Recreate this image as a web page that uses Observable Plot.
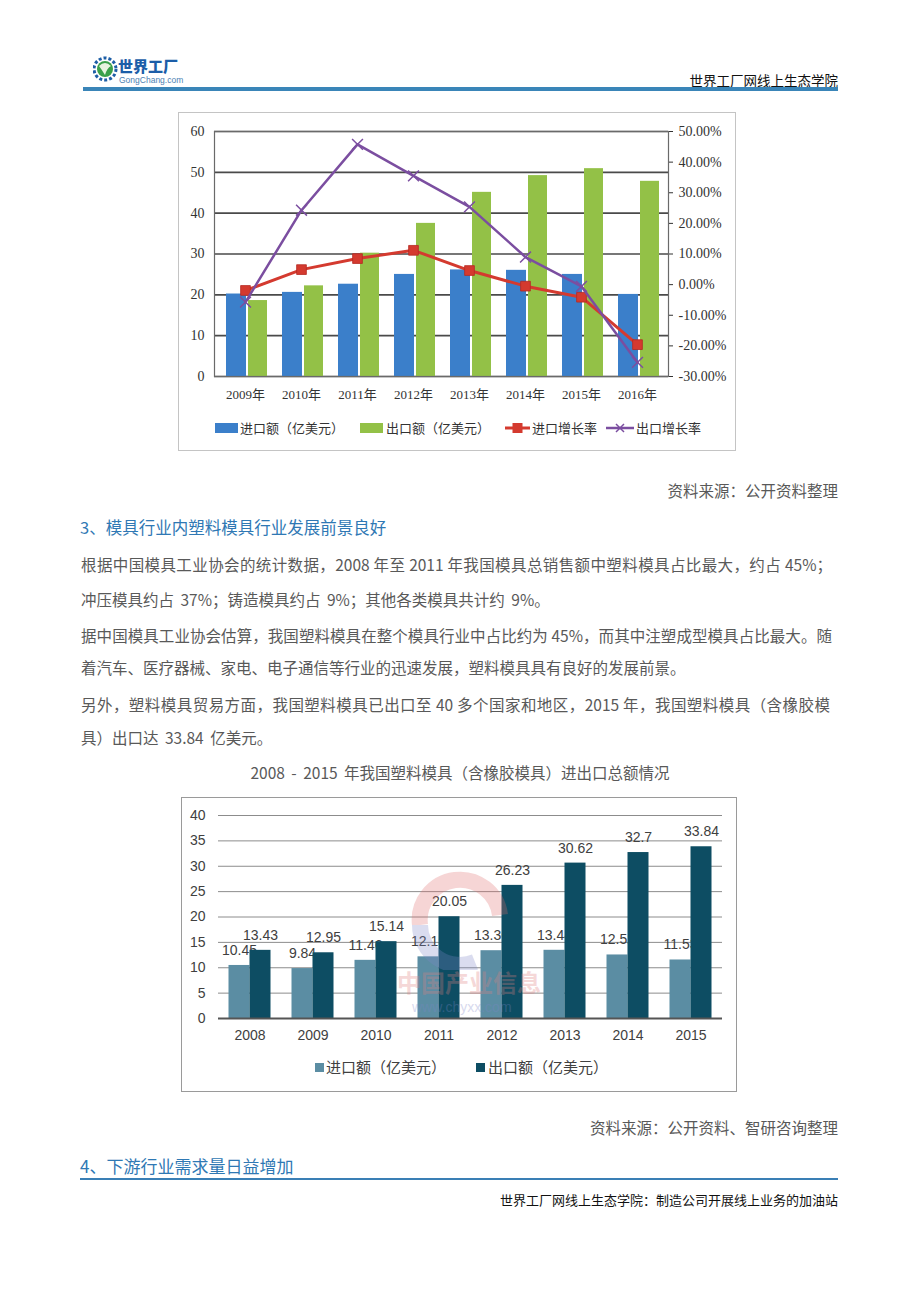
<!DOCTYPE html>
<html><head><meta charset="utf-8">
<script src="https://cdn.jsdelivr.net/npm/d3@7"></script>
<script src="https://cdn.jsdelivr.net/npm/@observablehq/plot@0.6"></script>
<style>
body{margin:0;background:#fff;}
#page{position:relative;width:920px;height:1302px;overflow:hidden;background:#fff;font-family:"Noto Sans CJK SC","Noto Sans",sans-serif;color:#595959;}
.t{position:absolute;white-space:nowrap;line-height:20px;height:20px;}
.p{font-size:15.5px;left:81px;color:#595959;}
.full{width:751px;text-align:justify;text-align-last:justify;}
.h{color:#2f78b4;left:80px;}
.box{position:absolute;box-sizing:border-box;}
.chart{position:absolute;}
.lg{position:absolute;white-space:nowrap;line-height:16px;}
</style></head>
<body><div id="page">
  <!-- header -->
  <svg class="box" style="left:93px;top:54px" width="26" height="30" viewBox="0 0 26 30">
    <circle cx="12" cy="15" r="11" fill="none" stroke="#1d5ea6" stroke-width="3" stroke-dasharray="3 2"/>
    <circle cx="12" cy="15" r="8" fill="#3aa04a"/>
    <path d="M6 12 Q12 6 18 12 Q14 14 12 21 Q9 16 6 12Z" fill="#e8f3e0"/>
  </svg>
  <div class="t" style="left:118px;top:56px;font-size:15px;font-weight:900;color:#1c5ea8;letter-spacing:0px">世界工厂</div>
  <div class="t" style="left:119px;top:70px;font-size:8.5px;color:#4d7fb3;font-family:'Liberation Sans',sans-serif">GongChang.com</div>
  <div class="t" style="right:82px;top:70px;font-size:13.5px;color:#111">世界工厂网线上生态学院</div>
  <div class="box" style="left:83px;top:87px;width:755px;height:4px;background:#3a85b8"></div>

  <!-- chart 1 -->
  <div class="box" style="left:178px;top:112px;width:558px;height:339px;border:1px solid #c4c4c4"></div>
  <div id="c1a" class="chart" style="left:178px;top:112px"></div>
  <div id="c1b" class="chart" style="left:178px;top:112px"></div>
  <div id="leg1"></div>

  <div class="t" style="right:82px;top:480px;font-size:15.5px">资料来源：公开资料整理</div>
  <div class="t h" style="top:517px;font-size:16.5px">3、模具行业内塑料模具行业发展前景良好</div>
  <div class="t p full" style="top:554px">根据中国模具工业协会的统计数据，2008 年至 2011 年我国模具总销售额中塑料模具占比最大，约占 45%；</div>
  <div class="t p" style="top:589px;word-spacing:3px">冲压模具约占 37%；铸造模具约占 9%；其他各类模具共计约 9%。</div>
  <div class="t p full" style="top:625px">据中国模具工业协会估算，我国塑料模具在整个模具行业中占比约为 45%，而其中注塑成型模具占比最大。随</div>
  <div class="t p" style="top:657px">着汽车、医疗器械、家电、电子通信等行业的迅速发展，塑料模具具有良好的发展前景。</div>
  <div class="t p full" style="top:694px;width:749px">另外，塑料模具贸易方面，我国塑料模具已出口至 40 多个国家和地区，2015 年，我国塑料模具（含橡胶模</div>
  <div class="t p" style="top:727px;word-spacing:3px">具）出口达 33.84 亿美元。</div>
  <div class="t" style="left:0;width:920px;text-align:center;top:762px;font-size:15.5px;word-spacing:3px">2008 - 2015 年我国塑料模具（含橡胶模具）进出口总额情况</div>

  <!-- chart 2 -->
  <div class="box" style="left:181px;top:797px;width:556px;height:295px;border:1px solid #9a9a9a"></div>
  <div id="c2" class="chart" style="left:181px;top:797px"></div>
  <!-- faint watermark -->
  <svg class="box" style="left:405px;top:870px;opacity:0.28" width="110" height="100" viewBox="0 0 110 100">
    <path d="M15 55 A40 40 0 0 1 95 45" fill="none" stroke="#e06a6a" stroke-width="16"/>
    <path d="M15 55 A40 40 0 0 0 70 92" fill="none" stroke="#7d86c8" stroke-width="16"/>
  </svg>
  <div class="t" style="left:397px;top:970px;font-size:24px;line-height:24px;height:24px;color:#e08080;opacity:0.3;font-weight:700">中国产业信息</div>
  <div class="t" style="left:412px;top:999px;font-size:14px;line-height:16px;height:16px;color:#7d86c8;opacity:0.3;font-family:'Liberation Sans',sans-serif">www.chyxx.com</div>
  <div id="leg2"></div>

  <div class="t" style="right:82px;top:1117px;font-size:15.5px">资料来源：公开资料、智研咨询整理</div>
  <div class="t h" style="top:1156px;font-size:17px">4、下游行业需求量日益增加</div>
  <div class="box" style="left:80px;top:1178px;width:758px;height:2px;background:#3a7fb5"></div>
  <div class="t" style="right:82px;top:1190px;font-size:13px;color:#111">世界工厂网线上生态学院：制造公司开展线上业务的加油站</div>
</div>
<script>
// ---- Chart 1 data ----
const years1 = ["2009年","2010年","2011年","2012年","2013年","2014年","2015年","2016年"];
const importAmt1 = [20.2, 20.6, 22.6, 25.0, 26.1, 26.0, 25.0, 20.1];
const exportAmt1 = [18.6, 22.2, 30.2, 37.5, 45.1, 49.2, 50.9, 47.8];
const importGrowth1 = [-1.9, 4.9, 8.5, 11.2, 4.6, -0.5, -4.1, -19.6];
const exportGrowth1 = [-5.7, 24.3, 45.8, 35.5, 25.4, 9.0, -0.6, -25.4];
const leftTicks1 = [0, 10, 20, 30, 40, 50, 60];
const rightTicks1 = [-30, -20, -10, 0, 10, 20, 30, 40, 50];
const legend1 = ["进口额（亿美元）", "出口额（亿美元）", "进口增长率", "出口增长率"];

// ---- Chart 2 data ----
const years2 = ["2008","2009","2010","2011","2012","2013","2014","2015"];
const importAmt2 = [10.45, 9.84, 11.46, 12.15, 13.36, 13.44, 12.52, 11.53];
const exportAmt2 = [13.43, 12.95, 15.14, 20.05, 26.23, 30.62, 32.7, 33.84];
const ticks2 = [0, 5, 10, 15, 20, 25, 30, 35, 40];
const legend2 = ["进口额（亿美元）", "出口额（亿美元）"];

const C = {blue:"#3b7fca", green:"#93c147", red:"#d43a2f", purple:"#7b4ea0", imp2:"#5b8da3", exp2:"#0d4d63"};

const d1 = years1.map((y,i)=>({year:y, imp:importAmt1[i], exp:exportAmt1[i], ig:importGrowth1[i], eg:exportGrowth1[i]}));
const d2 = years2.map((y,i)=>({year:y, imp:importAmt2[i], exp:exportAmt2[i]}));

const dims1 = {width:558, height:339, marginLeft:36, marginRight:68, marginTop:19, marginBottom:75};
const font1 = "'Liberation Serif','Noto Sans CJK SC',serif";

const c1a = Plot.plot({
  ...dims1,
  style:{background:"transparent", fontFamily:font1, fontSize:"14px", color:"#333"},
  x:{type:"band", domain:years1, padding:0, label:null},
  y:{domain:[0,60], label:null},
  marks:[
    Plot.ruleY(leftTicks1, {stroke:"#4a4a4a", strokeWidth:1.6}),
    Plot.barY(d1, {x:"year", y:"imp", fill:C.blue, insetLeft:9, insetRight:27}),
    Plot.barY(d1, {x:"year", y:"exp", fill:C.green, insetLeft:31, insetRight:6}),
    Plot.frame({stroke:"#6a6a6a", strokeWidth:1.2}),
    Plot.axisY(leftTicks1, {tickSize:0, tickPadding:10, label:null}),
    Plot.axisX({tickSize:0, tickPadding:13, label:null, fontSize:13})
  ]
});
document.getElementById("c1a").append(c1a);

const c1b = Plot.plot({
  ...dims1,
  style:{background:"transparent", fontFamily:font1, fontSize:"14px", color:"#333"},
  x:{type:"point", domain:years1, padding:0.5, axis:null},
  y:{domain:[-30,50], label:null, axis:null},
  marks:[
    Plot.axisY(rightTicks1, {anchor:"right", tickSize:4, tickPadding:6, tickFormat:d=>d.toFixed(2)+"%", label:null}),
    Plot.line(d1, {x:"year", y:"ig", stroke:C.red, strokeWidth:3}),
    Plot.dot(d1, {x:"year", y:"ig", symbol:"square", r:5.5, fill:C.red, stroke:"#b52a22", strokeWidth:0.8}),
    Plot.line(d1, {x:"year", y:"eg", stroke:C.purple, strokeWidth:2.5}),
    Plot.dot(d1, {x:"year", y:"eg", symbol:"times", r:5, stroke:C.purple, strokeWidth:1.5})
  ]
});
document.getElementById("c1b").append(c1b);

// legend 1
(function(){
  const page = document.getElementById("leg1");
  const sw = [
    {x:215, kind:"rect", color:C.blue, tx:240},
    {x:360, kind:"rect", color:C.green, tx:386},
    {x:505, kind:"sq", color:C.red, tx:532},
    {x:606, kind:"x", color:C.purple, tx:636}
  ];
  const cy = 428;
  sw.forEach((s,i)=>{
    const svg = document.createElementNS("http://www.w3.org/2000/svg","svg");
    svg.setAttribute("width", 30); svg.setAttribute("height", 16);
    svg.style.position = "absolute"; svg.style.left = s.x+"px"; svg.style.top = (cy-8)+"px";
    if (s.kind === "rect") {
      svg.innerHTML = `<rect x="0" y="3" width="23" height="10" fill="${s.color}"/>`;
    } else if (s.kind === "sq") {
      svg.innerHTML = `<line x1="0" y1="8" x2="25" y2="8" stroke="${s.color}" stroke-width="3"/><rect x="7.5" y="3" width="10" height="10" fill="${s.color}"/>`;
    } else {
      svg.innerHTML = `<line x1="0" y1="8" x2="28" y2="8" stroke="${s.color}" stroke-width="2.5"/><path d="M10 4L18 12M18 4L10 12" stroke="${s.color}" stroke-width="1.5"/>`;
    }
    page.appendChild(svg);
    const t = document.createElement("div");
    t.className = "lg";
    t.style.left = s.tx+"px"; t.style.top = (cy-8)+"px";
    t.style.fontSize = "13px"; t.style.color = "#333";
    t.textContent = legend1[i];
    page.appendChild(t);
  });
})();

// chart 2
const c2 = Plot.plot({
  width:556, height:295, marginLeft:37, marginRight:15, marginTop:18, marginBottom:74,
  style:{background:"transparent", fontFamily:"'Liberation Sans',Arial,sans-serif", fontSize:"14px", color:"#404040"},
  x:{type:"band", domain:years2, padding:0, label:null},
  y:{domain:[0,40], label:null},
  marks:[
    Plot.ruleY(ticks2, {stroke:"#8c8c8c", strokeWidth:1}),
    Plot.barY(d2, {x:"year", y:"imp", fill:C.imp2, insetLeft:10.5, insetRight:31.5}),
    Plot.text(d2, {x:"year", y:"imp", text:d=>String(d.imp), dx:-10.5, dy:-15, fill:"#404040"}),
    Plot.barY(d2, {x:"year", y:"exp", fill:C.exp2, insetLeft:31.5, insetRight:10.5}),
    Plot.text(d2, {x:"year", y:"exp", text:d=>String(d.exp), dx:10.5, dy:-15, fill:"#404040"}),
    Plot.ruleY([0], {stroke:"#555", strokeWidth:2}),
    Plot.axisY(ticks2, {tickSize:0, tickPadding:13, label:null}),
    Plot.axisX({tickSize:0, tickPadding:12, label:null})
  ]
});
document.getElementById("c2").append(c2);

// legend 2
(function(){
  const page = document.getElementById("leg2");
  const items = [{x:315, color:C.imp2, tx:326}, {x:476, color:C.exp2, tx:488}];
  const cy = 1067;
  items.forEach((s,i)=>{
    const r = document.createElement("div");
    r.className = "box";
    r.style.cssText = `position:absolute;left:${s.x}px;top:${cy-4.5}px;width:9px;height:9px;background:${s.color}`;
    page.appendChild(r);
    const t = document.createElement("div");
    t.className = "lg";
    t.style.cssText = `left:${s.tx}px;top:${cy-9}px;font-size:15px;color:#404040;line-height:18px`;
    t.textContent = legend2[i];
    page.appendChild(t);
  });
})();
</script>
</body></html>
